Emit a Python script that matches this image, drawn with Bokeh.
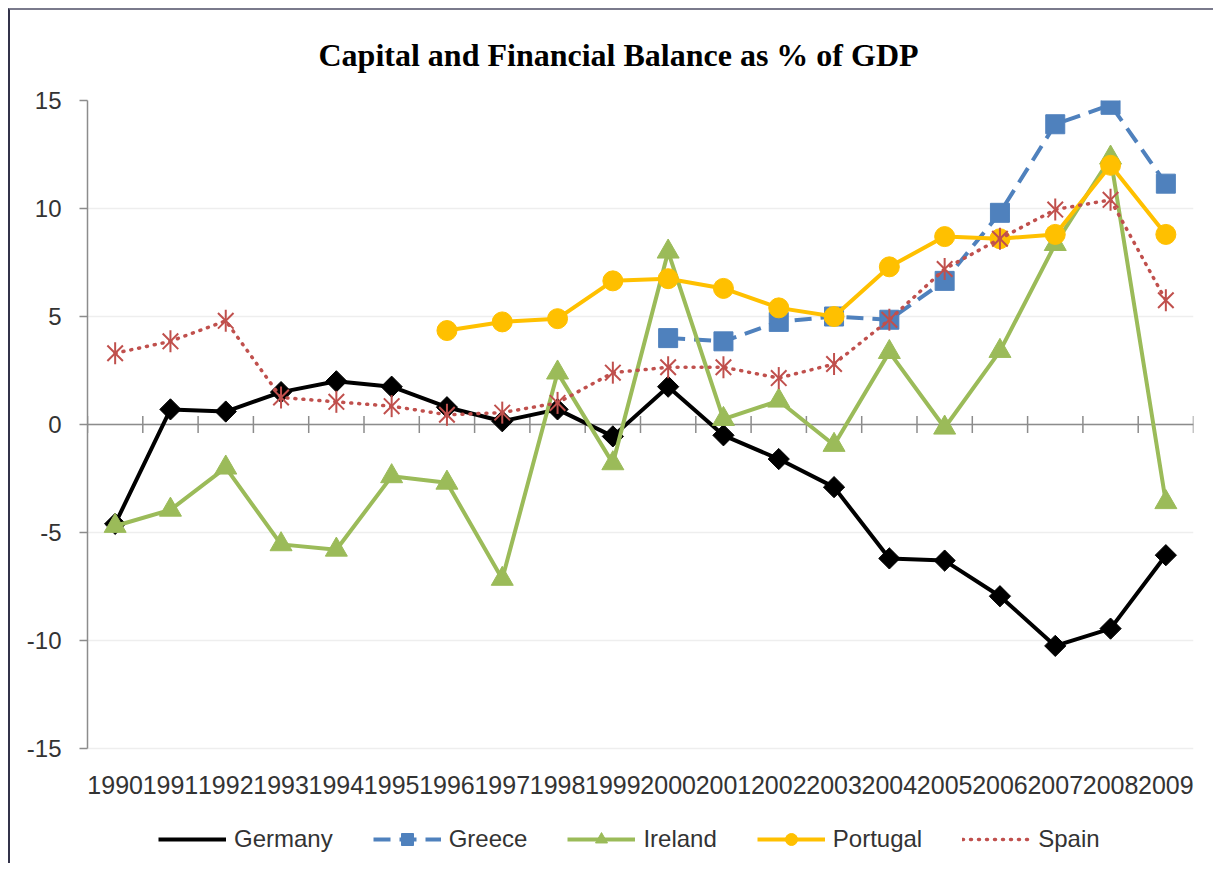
import math
import numpy as np
from bokeh.plotting import figure
from bokeh.models import (Range1d, FactorRange, FixedTicker, Span,
                          Legend, LegendItem, ColumnDataSource)
from bokeh.embed import file_html
from bokeh.resources import INLINE

# ---------------- data ----------------
years = ["1990", "1991", "1992", "1993", "1994", "1995", "1996", "1997", "1998", "1999",
         "2000", "2001", "2002", "2003", "2004", "2005", "2006", "2007", "2008", "2009"]
germany = [-4.6, 0.7, 0.6, 1.5, 2.0, 1.75, 0.8, 0.15, 0.7, -0.55,
           1.75, -0.5, -1.6, -2.9, -6.2, -6.3, -7.95, -10.25, -9.45, -6.05]
greece = [None, None, None, None, None, None, None, None, None, None,
          4.0, 3.85, 4.75, 5.0, 4.85, 6.65, 9.8, 13.9, 14.8, 11.15]
ireland = [-4.7, -3.95, -2.0, -5.55, -5.8, -2.4, -2.7, -7.15, 2.4, -1.8,
           8.0, 0.25, 1.1, -0.95, 3.35, -0.15, 3.4, 8.35, 12.35, -3.6]
portugal = [None, None, None, None, None, None, 4.35, 4.75, 4.9, 6.65,
            6.75, 6.3, 5.4, 5.0, 7.3, 8.7, 8.6, 8.8, 12.0, 8.8]
spain = [3.3, 3.85, 4.8, 1.25, 1.05, 0.85, 0.45, 0.55, 1.0, 2.4,
         2.65, 2.65, 2.15, 2.8, 4.85, 7.2, 8.6, 9.95, 10.4, 5.75]
series_names = ["Germany", "Greece", "Ireland", "Portugal", "Spain"]
y_ticks = [-15, -10, -5, 0, 5, 10, 15]
y_tick_labels = ["-15", "-10", "-5", "0", "5", "10", "15"]
title_text = "Capital and Financial Balance as % of GDP"

# ---------------- styles / layout ----------------
FONT = "Liberation Sans"
TXT = "#333333"
AXIS = "#8c8c8c"
GRID = "#eeeeee"
C_GER = "#000000"
C_GRE = "#4f81bd"
C_IRE = "#9bbb59"
C_POR = "#ffc000"
C_SPA = "#c0504d"

PLOT_H = 648          # pixel height of the -15..15 value band
EXTRA_H = 115         # extra frame space below -15 holding labels and legend
px_per_unit = PLOT_H / 30.0
y_lo = -15 - EXTRA_H / px_per_unit

def arr(v):
    return np.array([np.nan if x is None else x for x in v], dtype=float)

src = ColumnDataSource(dict(
    x=years, germany=arr(germany), greece=arr(greece), ireland=arr(ireland),
    portugal=arr(portugal), spain=arr(spain)))

p = figure(frame_width=1106, frame_height=PLOT_H + EXTRA_H, output_backend="svg",
           toolbar_location=None,
           x_range=FactorRange(factors=years, range_padding=0),
           y_range=Range1d(y_lo, 15),
           min_border_left=77, min_border_right=20, min_border_top=89, min_border_bottom=0)
p.outline_line_color = None
p.background_fill_color = "white"
p.border_fill_color = "white"
p.styles = {"margin-left": "8px", "margin-top": "8px",
            "border-top": "2px solid #7a7a8c", "border-left": "2px solid #33334a"}

# title
p.title.text = title_text
p.title.align = "left"
p.title.offset = 231
p.title.vertical_align = "top"
p.title.standoff = 52
p.title.text_font = "Liberation Serif"
p.title.text_font_style = "bold"
p.title.text_font_size = "32px"
p.title.text_color = "#000000"

# grid
p.xgrid.grid_line_color = None
p.ygrid.ticker = FixedTicker(ticks=y_ticks)
p.ygrid.grid_line_color = GRID
p.ygrid.grid_line_width = 1.5

# y axis
ya = p.yaxis[0]
ya.ticker = FixedTicker(ticks=y_ticks)
ya.bounds = (-15, 15)
ya.major_label_overrides = {t: l for t, l in zip(y_ticks, y_tick_labels)}
ya.axis_line_color = AXIS
ya.axis_line_width = 1.5
ya.major_tick_line_color = AXIS
ya.major_tick_line_width = 1.5
ya.major_tick_out = 8
ya.major_tick_in = 0
ya.minor_tick_line_color = None
ya.major_label_standoff = 18
ya.major_label_text_font = FONT
ya.major_label_text_font_size = "24px"
ya.major_label_text_color = TXT

# category labels, hung from the -15 line
xa = p.xaxis[0]
xa.fixed_location = -15
xa.axis_line_color = None
xa.major_tick_line_color = None
xa.minor_tick_line_color = None
xa.major_label_standoff = 21
xa.major_label_text_font = FONT
xa.major_label_text_font_size = "25px"
xa.major_label_text_color = TXT

# horizontal axis line crossing at zero, with tick marks on category boundaries
p.add_layout(Span(location=0, dimension="width", line_color=AXIS, line_width=1.5,
                  level="underlay"))
edges = list(range(len(years) + 1))  # synthetic categorical coordinates of boundaries
p.scatter(x=edges, y=[0] * len(edges), marker="dash", angle=math.pi / 2, size=17,
          line_color=AXIS, line_width=1.5)

# ---------------- series ----------------
# Germany
g_l = p.line("x", "germany", source=src, line_color=C_GER, line_width=4)
g_m = p.scatter("x", "germany", source=src, marker="square", angle=math.pi / 4, size=15,
                fill_color=C_GER, line_color=C_GER)
g_leg = p.scatter(x=[], y=[], marker="diamond", size=14, fill_color=C_GER, line_color=C_GER)
# Greece
gr_l = p.line("x", "greece", source=src, line_color=C_GRE, line_width=4, line_dash="17 9")
gr_m = p.scatter("x", "greece", source=src, marker="square", size=19,
                 fill_color=C_GRE, line_color=C_GRE)
# Ireland
i_l = p.line("x", "ireland", source=src, line_color=C_IRE, line_width=4)
i_m = p.scatter("x", "ireland", source=src, marker="triangle", size=22,
                fill_color=C_IRE, line_color=C_IRE)
# Portugal
p_l = p.line("x", "portugal", source=src, line_color=C_POR, line_width=4)
p_m = p.scatter("x", "portugal", source=src, marker="circle", size=20,
                fill_color=C_POR, line_color=C_POR)
# Spain
s_l = p.line("x", "spain", source=src, line_color=C_SPA, line_width=3.5, line_dash="1 7",
             line_cap="round")
s_x = p.scatter("x", "spain", source=src, marker="x", size=22, line_color=C_SPA, line_width=2)
s_v = p.scatter("x", "spain", source=src, marker="dash", angle=math.pi / 2, size=22,
                line_color=C_SPA, line_width=2)
s_leg = p.scatter(x=[], y=[], marker="asterisk", size=14, line_color=C_SPA, line_width=2)

legend = Legend(items=[
    LegendItem(label=series_names[0], renderers=[g_l, g_leg]),
    LegendItem(label=series_names[1], renderers=[gr_l, gr_m]),
    LegendItem(label=series_names[2], renderers=[i_l, i_m]),
    LegendItem(label=series_names[3], renderers=[p_l, p_m]),
    LegendItem(label=series_names[4], renderers=[s_l, s_leg]),
], orientation="horizontal", location=(71, 9))
legend.glyph_width = 68
legend.glyph_height = 30
legend.label_standoff = 8
legend.spacing = 40
legend.padding = 0
legend.margin = 0
legend.border_line_color = None
legend.background_fill_alpha = 0
legend.label_text_font = FONT
legend.label_text_font_size = "24px"
legend.label_text_color = TXT
p.add_layout(legend, "center")

open("out.html", "w").write(file_html(p, INLINE))
